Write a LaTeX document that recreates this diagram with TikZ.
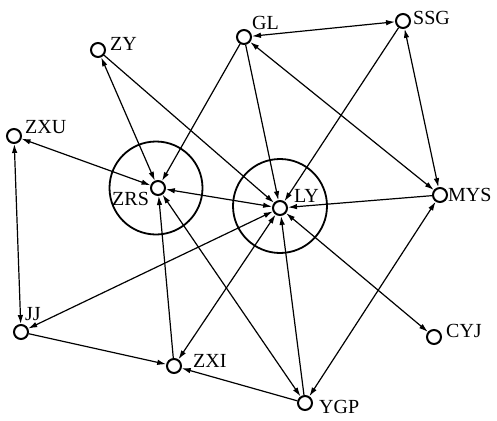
\documentclass[tikz,border=0pt]{standalone}
\usepackage{fontspec}
\setmainfont{Liberation Serif}
\usetikzlibrary{arrows.meta}
\begin{document}
\begin{tikzpicture}[x=1pt,y=-1pt,
  actor/.style={circle,draw,line width=2pt,minimum size=14pt,inner sep=0pt,fill=white},
  lab/.style={font=\fontsize{20}{20}\selectfont,inner sep=0pt,anchor=base west},
  link/.style={line width=1.2pt},
  one/.style={link,-{Latex[length=9pt,width=5.5pt]}},
  two/.style={link,{Latex[length=9pt,width=5.5pt]}-{Latex[length=9pt,width=5.5pt]}},
  ring/.style={draw,line width=1.8pt}]
\useasboundingbox (0,0) rectangle (497,420);

% rings around the two central actors
\draw[ring] (156,188) circle (46.5);
\draw[ring] (280,206) circle (47);

% actors
\node[actor] (ZY)  at (98,50)   {};
\node[actor] (GL)  at (244,37)  {};
\node[actor] (SSG) at (403,21)  {};
\node[actor] (ZXU) at (14,136)  {};
\node[actor] (ZRS) at (158,188) {};
\node[actor] (LY)  at (280,208) {};
\node[actor] (MYS) at (440,195) {};
\node[actor] (JJ)  at (21,332)  {};
\node[actor] (ZXI) at (174,366) {};
\node[actor] (YGP) at (305,403) {};
\node[actor] (CYJ) at (434,337) {};

% labels
\node[lab] (tZY)  at (110,50)  {ZY};
\node[lab] (tGL)  at (252,30)  {GL};
\node[lab] (tSSG) at (413,25)  {SSG};
\node[lab] (tZXU) at (25,133)  {ZXU};
\node[lab] (tZRS) at (112,205) {ZRS};
\node[lab] (tLY)  at (294,202) {LY};
\node[lab] (tMYS) at (448,201) {MYS};
\node[lab] (tJJ)  at (25,320)  {JJ};
\node[lab] (tZXI) at (193,367) {ZXI};
\node[lab] (tYGP) at (319,413) {YGP};
\node[lab] (tCYJ) at (446,337) {CYJ};

% ties
\draw[two] (ZY) -- (ZRS);
\draw[one] (ZY) -- (LY);
\draw[one] (GL) -- (ZRS);
\draw[one] (GL) -- (LY);
\draw[two] (GL) -- (SSG);
\draw[two] (GL) -- (MYS);
\draw[one] (SSG) -- (LY);
\draw[two] (SSG) -- (MYS);
\draw[one] (MYS) -- (LY);
\draw[two] (ZXU) -- (ZRS);
\draw[two] (ZXU) -- (JJ);
\draw[two] (LY) -- (ZRS);
\draw[two] (LY) -- (JJ);
\draw[two] (LY) -- (ZXI);
\draw[two] (LY) -- (CYJ);
\draw[one] (YGP) -- (LY);
\draw[two] (ZRS) -- (YGP);
\draw[one] (ZXI) -- (ZRS);
\draw[one] (JJ) -- (ZXI);
\draw[one] (YGP) -- (ZXI);
\draw[two] (MYS) -- (YGP);
\end{tikzpicture}
\end{document}
